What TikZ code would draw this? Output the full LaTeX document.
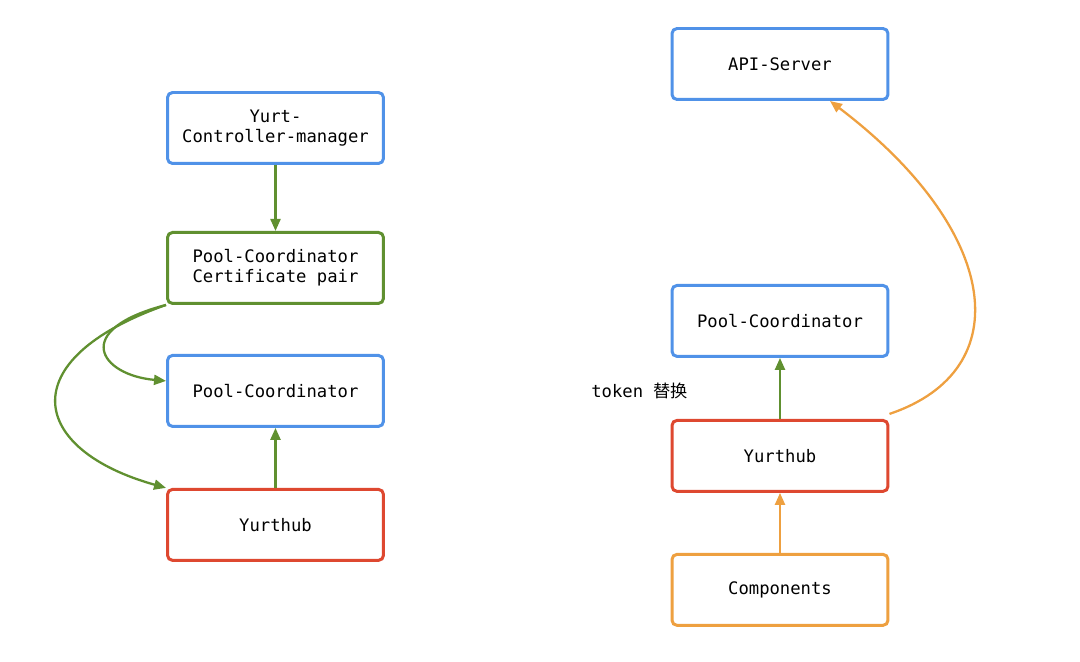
\documentclass[tikz,border=0pt]{standalone}
\usepackage{fontspec}
\setmonofont{DejaVu Sans Mono}
\newfontfamily\cjkfont{Noto Sans CJK SC}
\usetikzlibrary{arrows.meta, positioning}

\definecolor{boxblue}{RGB}{80,146,232}
\definecolor{boxgreen}{RGB}{96,144,48}
\definecolor{boxred}{RGB}{222,72,48}
\definecolor{boxorange}{RGB}{238,160,64}

\begin{document}
\begin{tikzpicture}[x=0.02cm, y=-0.02cm,
  box/.style={draw, rounded corners=0.1cm, line width=1.7pt, fill=white,
    minimum width=4.32cm, minimum height=1.42cm, align=center,
    font=\ttfamily\fontsize{9.8}{11.4}\selectfont},
  bluebox/.style={box, draw=boxblue},
  greenbox/.style={box, draw=boxgreen},
  redbox/.style={box, draw=boxred},
  orangebox/.style={box, draw=boxorange},
  link/.style={line width=1.3pt, -{Triangle[length=0.24cm, width=0.2cm]}},
  glink/.style={link, draw=boxgreen},
  olink/.style={link, draw=boxorange}]
  \useasboundingbox (0,0) rectangle (1080,662);
  % left side
  \node[bluebox] (YCM) at (275.5,128) {Yurt-\\Controller-manager};
  \node[greenbox, below=1.32cm of YCM] (Cert) {Pool-Coordinator\\Certificate pair};
  \node[bluebox, below=0.98cm of Cert] (PC1) {Pool-Coordinator};
  \node[redbox, below=1.2cm of PC1] (YH1) {Yurthub};
  \draw[glink] (YCM) -- (Cert);
  \draw[glink] (YH1) -- (PC1);
  \draw[glink] (Cert.south west) .. controls (70,330) and (100,375) .. ([yshift=0.2cm]PC1.west);
  \draw[glink] (Cert.south west) .. controls (10,360) and (30,450) .. (YH1.north west);
  % right side
  \node[bluebox] (API) at (780,64) {API-Server};
  \node[bluebox, below=3.66cm of API] (PC2) {Pool-Coordinator};
  \node[redbox, below=1.22cm of PC2] (YH2) {Yurthub};
  \node[orangebox, below=1.2cm of YH2] (Comp) {Components};
  \node[anchor=west, inner sep=0pt, font=\ttfamily\fontsize{9.8}{11.4}\selectfont] (Token) at (591,391) {token {\cjkfont 替换}};
  \draw[glink] (YH2) -- (PC2);
  \draw[olink] (Comp) -- (YH2);
  \draw[olink] ([yshift=0.1cm]YH2.north east) .. controls (1020,370) and (1000,230) .. ([xshift=1cm]API.south);
\end{tikzpicture}
\end{document}
